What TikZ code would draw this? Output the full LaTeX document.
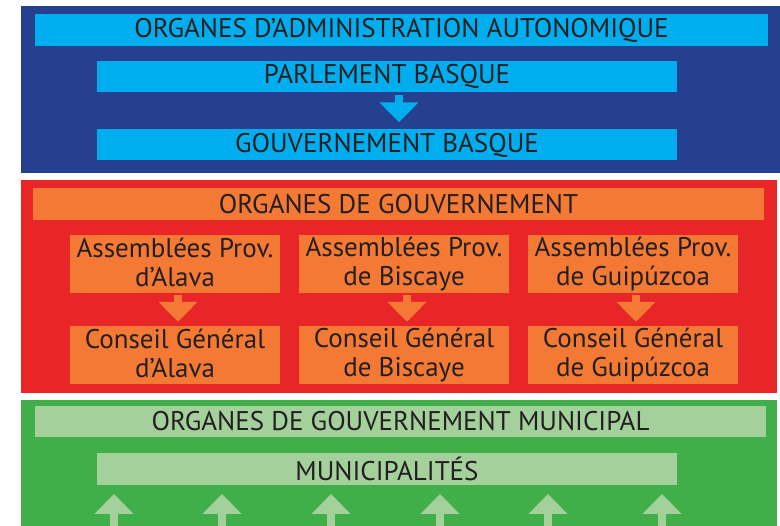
\documentclass[tikz,border=0pt]{standalone}
\usepackage{fontspec}
\setmainfont{PT Sans}
\usetikzlibrary{arrows.meta}

\definecolor{navy}{RGB}{37,64,143}
\definecolor{sky}{RGB}{0,174,239}
\definecolor{redpanel}{RGB}{233,38,39}
\definecolor{orangebox}{RGB}{244,121,52}
\definecolor{greenpanel}{RGB}{64,174,73}
\definecolor{greenbox}{RGB}{164,208,156}
\definecolor{ink}{RGB}{35,31,32}

\newcommand{\provtop}{\rule{0pt}{25pt}}
\newcommand{\provbot}{\rule[-4pt]{0pt}{4pt}}

\begin{document}
\begin{tikzpicture}[x=1pt, y=-1pt]
  \tikzstyle{panel}=[rectangle, anchor = north west, inner sep = 0pt]
  \tikzstyle{bar}=[rectangle, inner sep = 0pt, text = ink, font = \fontsize{27}{29}\selectfont]
  \tikzstyle{prov}=[bar, minimum width = 210pt, minimum height = 58pt, fill = orangebox, align = center,
                    execute at begin node = \provtop, execute at end node = \provbot]
  \tikzstyle{down}=[-{Triangle[width = 38pt, length = 20pt]}, line width = 8pt]

  \useasboundingbox (0,0) rectangle (780,526);

  % panels
  \node[panel, fill = navy, minimum width = 759pt, minimum height = 167pt] (autopanel) at (21,6) {};
  \node[panel, fill = redpanel, minimum width = 756pt, minimum height = 213pt] (provpanel) at (21,180) {};
  \node[panel, fill = greenpanel, minimum width = 756pt, minimum height = 126pt] (munipanel) at (21,400) {};

  % administration autonomique
  \node[bar, fill = sky, minimum width = 733pt, minimum height = 32pt] (autotitle) at (401.5,30) {ORGANES D’ADMINISTRATION AUTONOMIQUE};
  \node[bar, fill = sky, minimum width = 580pt, minimum height = 31pt] (parl) at (387,76.5) {PARLEMENT BASQUE};
  \node[bar, fill = sky, minimum width = 580pt, minimum height = 31pt] (gouv) at (387,145) {GOUVERNEMENT BASQUE};

  \path ([xshift = 12pt]parl.south) edge [down, sky, shorten < = 3pt, shorten > = 7pt] ([xshift = 12pt]gouv.north);

  % gouvernement provincial
  \node[bar, fill = orangebox, minimum width = 731pt, minimum height = 32pt] (provtitle) at (398.5,204) {ORGANES DE GOUVERNEMENT};

  \node[prov] (aal) at (175,264) {Assemblées Prov.\\d’Alava};
  \node[prov] (abi) at (404,264) {Assemblées Prov.\\de Biscaye};
  \node[prov] (agu) at (633,264) {Assemblées Prov.\\de Guipúzcoa};
  \node[prov] (cal) at (175,355) {Conseil Général\\d’Alava};
  \node[prov] (cbi) at (404,355) {Conseil Général\\de Biscaye};
  \node[prov] (cgu) at (633,355) {Conseil Général\\de Guipúzcoa};

  \path ([xshift = 3pt]aal.south) edge [down, orangebox, shorten < = 2pt, shorten > = 4pt] ([xshift = 3pt]cal.north)
        ([xshift = 3pt]abi.south) edge [down, orangebox, shorten < = 2pt, shorten > = 4pt] ([xshift = 3pt]cbi.north)
        ([xshift = 3pt]agu.south) edge [down, orangebox, shorten < = 2pt, shorten > = 4pt] ([xshift = 3pt]cgu.north);

  % gouvernement municipal
  \node[bar, fill = greenbox, minimum width = 731pt, minimum height = 31pt] (munititle) at (400.5,421.5) {ORGANES DE GOUVERNEMENT MUNICIPAL};
  \node[bar, fill = greenbox, minimum width = 580pt, minimum height = 32pt] (muni) at (387,469) {MUNICIPALITÉS};

  \foreach \x [count = \i] in {114,222,331,440,548,662} {
    \coordinate (base\i) at (\x,526);
    \coordinate (tip\i) at (\x,494);
    \path (base\i) edge [down, greenbox] (tip\i);
  }

\end{tikzpicture}
\end{document}
